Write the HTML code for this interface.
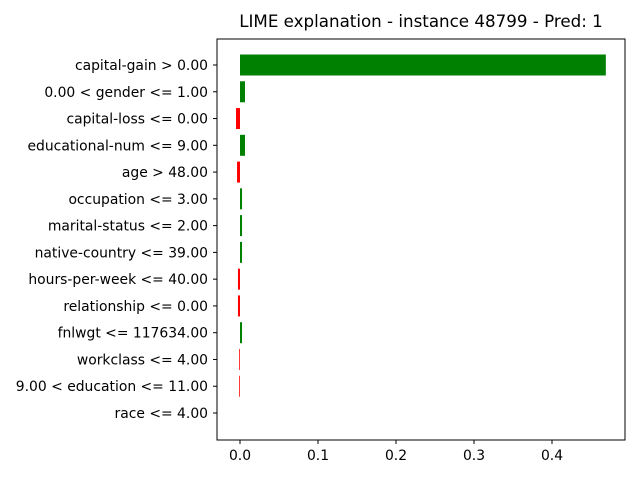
<!DOCTYPE html>
<html><head><meta charset="utf-8"><style>body{margin:0;background:#fff}svg{display:block;font-family:"DejaVu Sans","Liberation Sans",sans-serif}</style></head>
<body>
<svg id="chart" width="640" height="480">
<rect x="0" y="0" width="640" height="480" fill="#fff"/>
<text x="421" y="27" text-anchor="middle" font-size="16.7">LIME explanation - instance 48799 - Pred: 1</text>
<g id="bars"></g>
<rect x="217" y="39" width="408" height="401" fill="none" stroke="#000" stroke-width="1"/>
<g id="axes"></g>
</svg>
<script>
const features = ["capital-gain > 0.00","0.00 < gender <= 1.00","capital-loss <= 0.00","educational-num <= 9.00","age > 48.00","occupation <= 3.00","marital-status <= 2.00","native-country <= 39.00","hours-per-week <= 40.00","relationship <= 0.00","fnlwgt <= 117634.00","workclass <= 4.00","9.00 < education <= 11.00","race <= 4.00"];
const weights = [0.469,0.0064,-0.0051,0.0064,-0.0038,0.0026,0.0026,0.0026,-0.0026,-0.0026,0.0026,-0.001,-0.001,0.0];
const xTicks = [0.0,0.1,0.2,0.3,0.4];
const ns="http://www.w3.org/2000/svg";
const x = v => 240 + v*780;
const rowY = i => 65 + i*26.77;
const bars=document.getElementById('bars'), axes=document.getElementById('axes');
features.forEach((f,i)=>{
  const w=weights[i];
  const r=document.createElementNS(ns,'rect');
  
  
  const x0=Math.min(x(0),x(w)), wd=Math.abs(x(w)-x(0));
  r.setAttribute('x',x0); r.setAttribute('y',rowY(i)-10.5);
  r.setAttribute('width',Math.max(wd,0.6)); r.setAttribute('height',21);
  r.setAttribute('fill', w>0?'green':(w<0?'red':'none'));
  bars.appendChild(r);
  const tk=document.createElementNS(ns,'line');
  
  
  tk.setAttribute('x1',213);tk.setAttribute('x2',217);tk.setAttribute('y1',rowY(i));tk.setAttribute('y2',rowY(i));tk.setAttribute('stroke','#000');
  axes.appendChild(tk);
  const t=document.createElementNS(ns,'text');
  
  
  t.setAttribute('x',208);t.setAttribute('y',rowY(i)+5);t.setAttribute('text-anchor','end');t.setAttribute('font-size','13.9');
  t.textContent=f; axes.appendChild(t);
});
xTicks.forEach(v=>{
  const tk=document.createElementNS(ns,'line');
  
  
  tk.setAttribute('x1',x(v));tk.setAttribute('x2',x(v));tk.setAttribute('y1',440);tk.setAttribute('y2',444);tk.setAttribute('stroke','#000');
  axes.appendChild(tk);
  const t=document.createElementNS(ns,'text');
  
  
  t.setAttribute('x',x(v));t.setAttribute('y',460);t.setAttribute('text-anchor','middle');t.setAttribute('font-size','13.9');
  t.textContent=v.toFixed(1); axes.appendChild(t);
});
</script>
</body></html>
